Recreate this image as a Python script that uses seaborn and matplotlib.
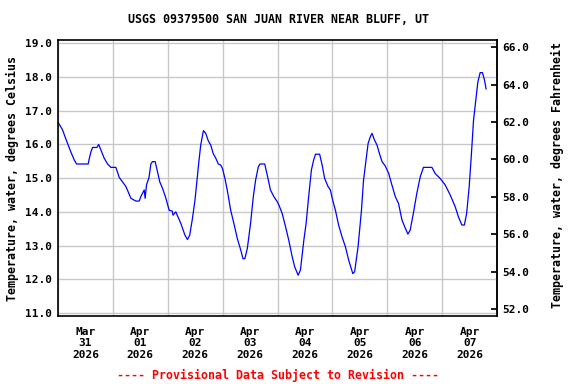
import pandas as pd
import numpy as np
import seaborn as sns
import matplotlib
matplotlib.use("Agg")
import matplotlib.pyplot as plt
import matplotlib.dates as mdates
from matplotlib.ticker import FormatStrFormatter

# hours since 2026-03-31 00:00, water temperature (deg C)
hours = [0, 2, 3.5, 5.6, 7.1, 8.1, 13.2, 13.7, 14.4, 15.1, 17, 17.8, 18.8, 20.2, 21.7, 23.1,
         25.3, 26.8, 29.7, 31.9, 34.1, 35.5, 36.2, 37.7, 38.1, 38.7, 39.8, 40.6, 41.3, 42.5,
         43.5, 44.5, 45.7, 47.1, 48.6, 50, 50.3, 51.5, 53.7, 55.5, 56.6, 57.6, 58.8, 59.9,
         60.9, 61.6, 62.4, 63.1, 63.6, 64.6, 65.7, 66.8, 67.8, 69, 70.1, 71.1, 71.9, 73, 74,
         75.5, 76.9, 78.4, 79.9, 80.9, 81.7, 82.8, 84.2, 85.4, 86.4, 87.6, 88.3, 90.4, 91.5,
         92.9, 94.4, 95.9, 96.6, 98, 99.5, 100.9, 102.4, 103.5, 105, 106, 107.5, 108.5, 109.6,
         110.8, 111.8, 112.6, 114.4, 115.5, 116.6, 118.1, 119.1, 120.1, 121.3, 122.7, 124.2,
         125.7, 127.1, 128.9, 129.7, 131.2, 132.7, 133.6, 134.7, 135.6, 136.6, 137.3, 138.4,
         139.5, 140.5, 141.7, 143.1, 144.6, 146, 147.5, 148.9, 150.4, 151.9, 153, 154, 155.5,
         156.9, 158.4, 159.8, 163.5, 164.9, 167.1, 169.3, 171.5, 173.7, 175.1, 176.6, 177.7,
         178.7, 179.8, 180.7, 181.7, 182.7, 183.6, 184.6, 185.6, 186.5, 187.2]
temps = [16.66, 16.43, 16.15, 15.78, 15.54, 15.42, 15.42, 15.59, 15.78, 15.91, 15.91, 16.0,
         15.83, 15.59, 15.42, 15.32, 15.32, 15.02, 14.75, 14.40, 14.32, 14.32, 14.45, 14.65,
         14.40, 14.80, 15.02, 15.42, 15.49, 15.49, 15.19, 14.89, 14.70, 14.42, 14.05, 14.02,
         13.90, 14.0, 13.66, 13.31, 13.18, 13.31, 13.81, 14.35, 15.04, 15.49, 15.98, 16.23,
         16.41, 16.33, 16.11, 15.98, 15.74, 15.59, 15.42, 15.39, 15.29, 14.99, 14.65, 14.05,
         13.66, 13.21, 12.87, 12.61, 12.61, 12.92, 13.66, 14.45, 14.94, 15.34, 15.42, 15.42,
         15.09, 14.65, 14.45, 14.30, 14.20, 13.96, 13.56, 13.16, 12.67, 12.37, 12.12, 12.27,
         13.16, 13.66, 14.45, 15.24, 15.54, 15.71, 15.71, 15.39, 14.99, 14.75, 14.65, 14.35,
         14.05, 13.61, 13.26, 12.96, 12.57, 12.17, 12.22, 12.96, 14.05, 14.94, 15.54, 16.03,
         16.23, 16.33, 16.13, 15.98, 15.74, 15.49, 15.36, 15.14, 14.80, 14.45, 14.25, 13.76,
         13.51, 13.34, 13.46, 14.00, 14.55, 15.04, 15.32, 15.32, 15.14, 14.99, 14.80, 14.50,
         14.15, 13.85, 13.61, 13.61, 13.96, 14.75, 15.64, 16.72, 17.32, 17.86, 18.13, 18.13,
         17.91, 17.64]

c_ticks = [11, 12, 13, 14, 15, 16, 17, 18, 19]
f_ticks = [52, 54, 56, 58, 60, 62, 64, 66]

start = pd.Timestamp("2026-03-31")
df = pd.DataFrame({"time": start + pd.to_timedelta(hours, unit="h"), "temp": temps})

sns.set_theme(style="white")
plt.rcParams["font.family"] = ["DejaVu Sans Mono"]
plt.rcParams["font.weight"] = "bold"
plt.rcParams["text.color"] = "black"
plt.rcParams["xtick.color"] = "black"
plt.rcParams["ytick.color"] = "black"
plt.rcParams["axes.labelcolor"] = "black"

fig, ax = plt.subplots(figsize=(5.76, 3.84), dpi=100)
fig.subplots_adjust(left=0.1007, right=0.863, top=0.896, bottom=0.177)

sns.lineplot(x="time", y="temp", data=df, ax=ax, color="#0000ff", linewidth=0.9)

ax.set_xlim(start, start + pd.Timedelta(days=8))
ax.set_ylim(10.91, 19.10)
ax.set_xlabel("")
ax.set_ylabel("")

ax.xaxis.set_major_locator(mdates.DayLocator())
ax.xaxis.set_major_formatter(plt.NullFormatter())
ax.xaxis.set_minor_locator(mdates.HourLocator(byhour=12))
ax.xaxis.set_minor_formatter(mdates.DateFormatter("%b\n%d\n%Y"))
ax.tick_params(axis="x", which="both", length=0, labelsize=8, pad=8, labelcolor="black")
for lab in ax.get_xticklabels(minor=True):
    lab.set_fontweight("bold")
    lab.set_linespacing(1.15)

ax.set_yticks(c_ticks)
ax.yaxis.set_major_formatter(FormatStrFormatter("%.1f"))
ax.tick_params(axis="y", direction="in", length=4, labelsize=8, pad=4, color="black",
               labelcolor="black")
ax.grid(True, which="major", color="#c8c8c8", linewidth=1.0)

for sp in ax.spines.values():
    sp.set_color("black")
    sp.set_linewidth(1.2)

sec = ax.secondary_yaxis("right", functions=(lambda c: c * 1.8 + 32, lambda f: (f - 32) / 1.8))
sec.set_yticks(f_ticks)
sec.yaxis.set_major_formatter(FormatStrFormatter("%.1f"))
sec.tick_params(axis="y", direction="in", length=4, labelsize=8, pad=4, color="black",
                labelcolor="black")

fig.text(0.483, 0.948, "USGS 09379500 SAN JUAN RIVER NEAR BLUFF, UT", ha="center", va="center",
         fontsize=8.35, fontweight="bold", color="black")
fig.text(0.021, 0.535, "Temperature, water, degrees Celsius", rotation=90, ha="center",
         va="center", fontsize=8.4, fontweight="bold", color="black")
fig.text(0.967, 0.545, "Temperature, water, degrees Fahrenheit", rotation=90, ha="center",
         va="center", fontsize=8.4, fontweight="bold", color="black")
fig.text(0.482, 0.023, "---- Provisional Data Subject to Revision ----", ha="center",
         va="center", fontsize=8.4, fontweight="bold", color="red")

fig.savefig("out.png", dpi=100)
